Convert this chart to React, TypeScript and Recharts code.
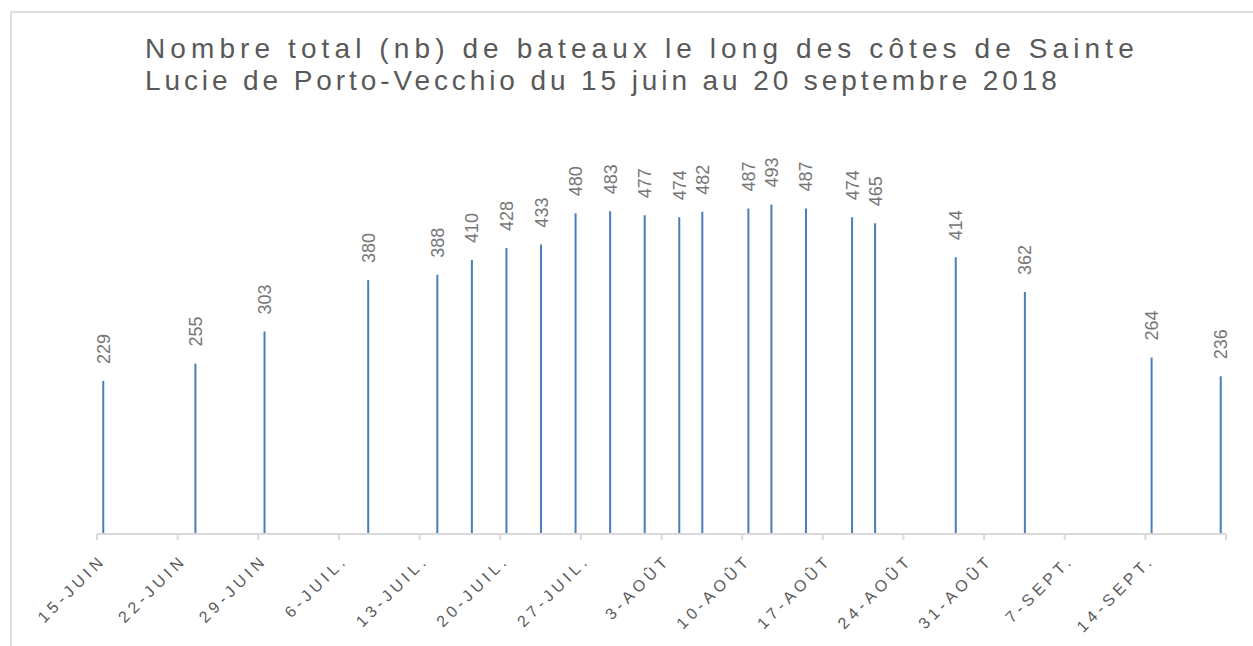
import React from 'react';
import { BarChart, Bar, XAxis, YAxis, LabelList } from 'recharts';

// survey dates and boat counts
const surveyDates = [
  '2018-06-15', '2018-06-23', '2018-06-29', '2018-07-08', '2018-07-14', '2018-07-17',
  '2018-07-20', '2018-07-23', '2018-07-26', '2018-07-29', '2018-08-01', '2018-08-04',
  '2018-08-06', '2018-08-10', '2018-08-12', '2018-08-15', '2018-08-19', '2018-08-21',
  '2018-08-28', '2018-09-03', '2018-09-14', '2018-09-20',
];
const boatCounts = [
  229, 255, 303, 380, 388, 410, 428, 433, 480, 483, 477, 474,
  482, 487, 493, 487, 474, 465, 414, 362, 264, 236,
];

const tickDates = [
  '2018-06-15', '2018-06-22', '2018-06-29', '2018-07-06', '2018-07-13', '2018-07-20',
  '2018-07-27', '2018-08-03', '2018-08-10', '2018-08-17', '2018-08-24', '2018-08-31',
  '2018-09-07', '2018-09-14', '2018-09-21',
];
const tickLabels = [
  '15-JUIN', '22-JUIN', '29-JUIN', '6-JUIL.', '13-JUIL.', '20-JUIL.', '27-JUIL.',
  '3-AOÛT', '10-AOÛT', '17-AOÛT', '24-AOÛT', '31-AOÛT', '7-SEPT.', '14-SEPT.', '',
];

const titleLines = [
  'Nombre total (nb) de bateaux le long des côtes de Sainte',
  'Lucie de Porto-Vecchio du 15 juin au 20 septembre 2018',
];

const START = Date.parse('2018-06-15');
const dayOf = (iso: string) => Math.round((Date.parse(iso) - START) / 86400000);

const tickDays = tickDates.map(dayOf);
const data = surveyDates.map((d, i) => ({ day: dayOf(d) + 0.5, boats: boatCounts[i] }));

const FONT = '"Liberation Sans", Arial, sans-serif';
const GREY = '#595959';

const DateTick = ({ x, y, payload }: any) => {
  const label = tickLabels[tickDays.indexOf(payload.value)] ?? '';
  const ax = x + 10;
  const ay = y + 19;
  return (
    <text
      x={ax}
      y={ay}
      transform={`rotate(-45 ${ax} ${ay})`}
      textAnchor="end"
      fill={GREY}
      fontSize={16}
      fontFamily={FONT}
      letterSpacing={4.3}
    >
      {label}
    </text>
  );
};

const ValueLabel = ({ x, y, width, value }: any) => {
  const lx = x + width / 2 + 6.5;
  const ly = y - 17;
  return (
    <text
      x={lx}
      y={ly}
      transform={`rotate(-90 ${lx} ${ly})`}
      textAnchor="start"
      fill="#767676"
      fontSize={18}
      fontFamily={FONT}
    >
      {value}
    </text>
  );
};

export default function App() {
  return (
    <div style={{ position: 'absolute', left: 0, top: 0, width: 1253, height: 646, overflow: 'hidden', background: '#fff' }}>
      <div
        style={{
          position: 'absolute', left: 10, top: 11, width: 1400, height: 800,
          borderTop: '2px solid #dedede', borderLeft: '2px solid #dedede',
        }}
      />
      {titleLines.map((line, i) => (
        <div
          key={i}
          style={{
            position: 'absolute', left: 145, top: 33 + i * 32, fontFamily: FONT, fontSize: 28,
            lineHeight: '32px', letterSpacing: i === 0 ? 5.1 : 3.9, color: GREY, whiteSpace: 'pre',
          }}
        >
          {line}
        </div>
      ))}
      <div style={{ position: 'absolute', left: 0, top: 0 }}>
        <BarChart width={1253} height={646} data={data} margin={{ top: 133, right: 27, bottom: 12, left: 97 }}>
          <XAxis
            dataKey="day"
            type="number"
            domain={[0, 98]}
            ticks={tickDays}
            interval={0}
            height={100}
            axisLine={{ stroke: '#d9d9d9', strokeWidth: 2 }}
            tickLine={{ stroke: '#d9d9d9', strokeWidth: 2 }}
            tickSize={6}
            tick={<DateTick />}
          />
          <YAxis hide domain={[0, 600]} />
          <Bar dataKey="boats" fill="#4a7ebb" barSize={2} isAnimationActive={false}>
            <LabelList dataKey="boats" content={<ValueLabel />} />
          </Bar>
        </BarChart>
      </div>
    </div>
  );
}
